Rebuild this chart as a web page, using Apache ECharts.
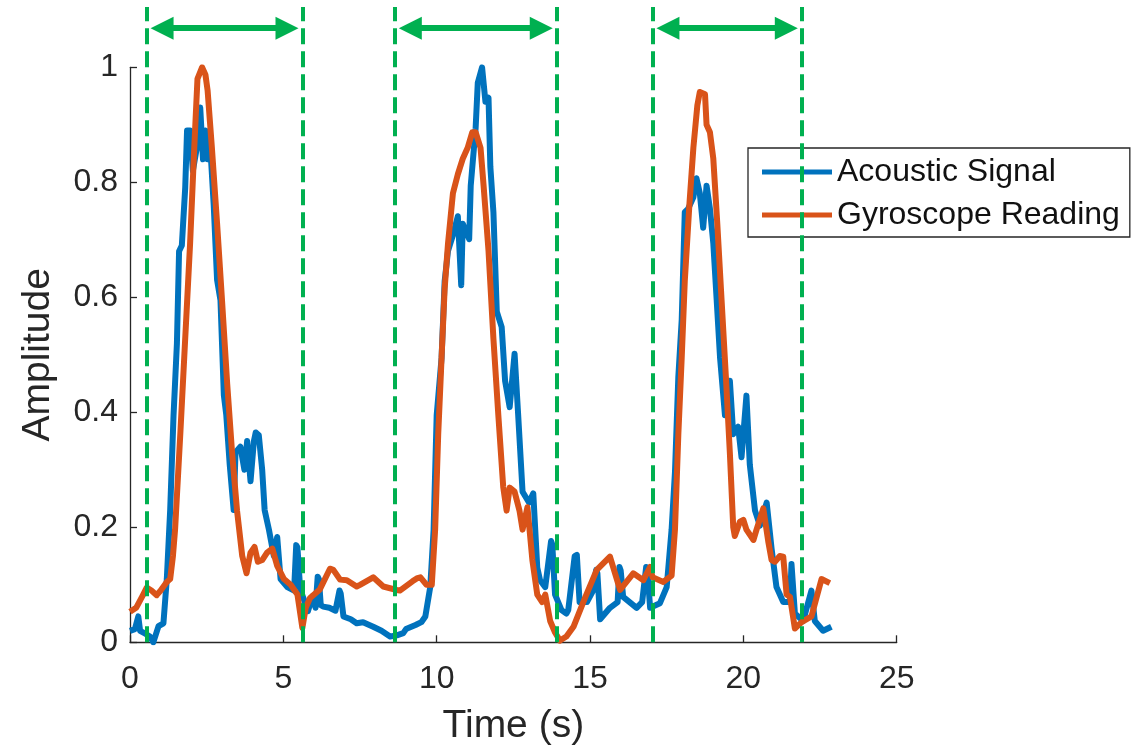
<!DOCTYPE html>
<html>
<head>
<meta charset="utf-8">
<script src="https://cdn.jsdelivr.net/npm/echarts@6/dist/echarts.min.js"></script>
<style>
html,body{margin:0;padding:0;background:#fff;}
#chart{width:1144px;height:754px;}
</style>
</head>
<body>
<div id="chart"></div>
<script>
// ---- data ----
const acousticTime = [0.00,0.16,0.27,0.33,0.50,0.65,0.76,0.93,1.09,1.20,1.31,1.42,1.53,1.60,1.69,1.80,1.86,1.96,2.05,2.18,2.29,2.38,2.46,2.53,2.62,2.73,2.84,2.95,3.06,3.14,3.25,3.38,3.44,3.60,3.73,3.82,3.93,4.04,4.10,4.20,4.31,4.39,4.53,4.69,4.80,4.91,5.13,5.35,5.42,5.46,5.55,5.70,5.80,5.95,6.05,6.12,6.16,6.22,6.30,6.50,6.70,6.83,6.87,6.96,7.20,7.39,7.60,7.93,8.20,8.48,8.70,8.91,9.00,9.31,9.50,9.63,9.79,9.90,10.00,10.16,10.26,10.37,10.53,10.69,10.80,10.85,11.06,11.11,11.27,11.34,11.48,11.59,11.69,11.75,11.85,11.96,12.12,12.23,12.38,12.54,12.65,12.80,13.01,13.15,13.28,13.37,13.54,13.73,13.77,13.86,14.07,14.23,14.29,14.50,14.57,14.66,14.90,15.10,15.20,15.24,15.33,15.65,15.90,15.96,16.00,16.08,16.52,16.70,16.83,16.87,16.96,17.28,17.50,17.66,17.77,17.88,17.99,18.09,18.20,18.37,18.47,18.58,18.69,18.80,18.91,19.02,19.13,19.24,19.40,19.50,19.56,19.67,19.83,19.94,20.10,20.21,20.38,20.54,20.76,20.92,21.08,21.30,21.52,21.57,21.68,21.95,22.22,22.33,22.60,22.87];
const acousticValue = [0.020,0.023,0.045,0.020,0.015,0.010,0.000,0.028,0.033,0.110,0.230,0.395,0.520,0.680,0.690,0.790,0.890,0.890,0.820,0.860,0.930,0.840,0.890,0.840,0.860,0.760,0.630,0.595,0.430,0.395,0.310,0.230,0.330,0.340,0.300,0.350,0.280,0.350,0.365,0.360,0.300,0.230,0.196,0.150,0.183,0.110,0.096,0.090,0.169,0.165,0.092,0.070,0.054,0.080,0.060,0.114,0.110,0.065,0.062,0.060,0.055,0.090,0.085,0.045,0.040,0.033,0.035,0.027,0.020,0.010,0.012,0.016,0.023,0.030,0.035,0.045,0.096,0.196,0.395,0.495,0.628,0.681,0.708,0.741,0.621,0.728,0.701,0.794,0.894,0.973,1.000,0.940,0.947,0.827,0.748,0.575,0.548,0.455,0.409,0.502,0.402,0.262,0.243,0.259,0.130,0.108,0.096,0.176,0.170,0.083,0.056,0.050,0.056,0.150,0.152,0.070,0.070,0.090,0.126,0.120,0.040,0.060,0.070,0.131,0.125,0.079,0.060,0.070,0.131,0.125,0.060,0.068,0.096,0.196,0.296,0.462,0.561,0.748,0.754,0.774,0.807,0.781,0.721,0.794,0.754,0.694,0.595,0.495,0.395,0.420,0.455,0.362,0.375,0.322,0.429,0.309,0.229,0.203,0.243,0.163,0.096,0.070,0.070,0.136,0.050,0.037,0.090,0.037,0.020,0.027];

const gyroTime = [0.00,0.20,0.40,0.545,0.70,0.87,1.00,1.20,1.31,1.40,1.47,1.64,1.80,1.96,2.09,2.20,2.35,2.46,2.53,2.67,2.84,3.00,3.17,3.33,3.49,3.66,3.80,3.93,4.06,4.17,4.31,4.47,4.64,4.80,5.02,5.24,5.46,5.62,5.73,5.87,6.19,6.52,6.63,6.85,7.07,7.39,7.50,7.93,8.26,8.70,8.80,9.21,9.35,9.47,9.67,9.84,9.95,10.05,10.16,10.26,10.37,10.53,10.69,10.85,11.01,11.16,11.27,11.43,11.53,11.69,11.85,12.01,12.17,12.28,12.38,12.54,12.70,12.80,12.96,13.12,13.28,13.44,13.54,13.70,13.86,14.02,14.23,14.46,14.82,15.22,15.65,15.98,16.41,16.74,16.96,17.04,17.39,17.66,17.77,17.88,17.99,18.09,18.24,18.37,18.50,18.58,18.75,18.80,18.91,19.02,19.15,19.29,19.43,19.56,19.67,19.72,19.89,20.00,20.10,20.33,20.43,20.65,20.81,20.92,21.03,21.19,21.30,21.41,21.52,21.68,21.90,22.22,22.55,22.60,22.82];
const gyroValue = [0.053,0.060,0.080,0.095,0.090,0.082,0.090,0.105,0.110,0.150,0.196,0.362,0.528,0.694,0.854,0.980,1.000,0.987,0.960,0.860,0.728,0.595,0.449,0.329,0.229,0.150,0.120,0.156,0.166,0.140,0.143,0.156,0.163,0.133,0.110,0.100,0.083,0.025,0.060,0.077,0.092,0.128,0.126,0.109,0.108,0.097,0.100,0.113,0.097,0.091,0.090,0.106,0.111,0.113,0.100,0.100,0.196,0.362,0.495,0.615,0.694,0.781,0.814,0.841,0.860,0.887,0.887,0.860,0.794,0.681,0.528,0.395,0.270,0.229,0.269,0.262,0.229,0.196,0.235,0.143,0.083,0.070,0.083,0.037,0.017,0.003,0.010,0.027,0.075,0.126,0.149,0.091,0.120,0.108,0.131,0.113,0.105,0.116,0.196,0.362,0.495,0.628,0.761,0.860,0.934,0.957,0.953,0.900,0.887,0.841,0.728,0.595,0.462,0.329,0.200,0.185,0.210,0.213,0.196,0.178,0.196,0.233,0.176,0.143,0.140,0.150,0.149,0.083,0.079,0.024,0.035,0.045,0.110,0.111,0.103];

// segment boundaries (s) marked by green dashed lines
const segmentBounds = [[0.545, 5.62], [8.64, 13.91], [17.04, 21.90]];

const xTicks = [0, 5, 10, 15, 20, 25];
const yTicks = [0, 0.2, 0.4, 0.6, 0.8, 1];

// ---- build ----
const zip = (a, b) => a.map((t, i) => [t, b[i]]);
const FONT = 'Liberation Sans, Arial, Helvetica, sans-serif';
const AX = '#262626';
const GREEN = '#00B050';
const TOP_V = 1.105;
const ARROW_V = 1.068;

const dashedData = [];
const arrowData = [];
segmentBounds.forEach(([a, b]) => {
  dashedData.push({coords: [[a, 0], [a, TOP_V]]});
  dashedData.push({coords: [[b, 0], [b, TOP_V]]});
  arrowData.push({coords: [[a + 0.5, ARROW_V], [b - 0.5, ARROW_V]]});
});

const chart = echarts.init(document.getElementById('chart'), null, {renderer: 'canvas'});
chart.setOption({
  animation: false,
  backgroundColor: '#ffffff',
  grid: [
    {left: 130, right: 247.3, top: 67.3, bottom: 111.7},
    {left: 130, right: 247.3, top: 6.9, bottom: 111.7}
  ],
  xAxis: [
    {
      type: 'value', gridIndex: 0, min: xTicks[0], max: xTicks[xTicks.length - 1], interval: 5,
      axisLine: {lineStyle: {color: AX, width: 1.3}},
      axisTick: {inside: true, length: 7, lineStyle: {color: AX, width: 1.3}},
      axisLabel: {fontSize: 32, color: AX, fontFamily: FONT, margin: 21},
      splitLine: {show: false},
      name: 'Time (s)', nameLocation: 'middle', nameGap: 64,
      nameTextStyle: {fontSize: 39, color: AX, fontFamily: FONT}
    },
    {type: 'value', gridIndex: 1, min: 0, max: 25, show: false}
  ],
  yAxis: [
    {
      type: 'value', gridIndex: 0, min: yTicks[0], max: yTicks[yTicks.length - 1], interval: 0.2,
      axisLine: {show: true, lineStyle: {color: AX, width: 1.3}},
      axisTick: {show: true, inside: true, length: 7, lineStyle: {color: AX, width: 1.3}},
      axisLabel: {fontSize: 32, color: AX, fontFamily: FONT, margin: 12},
      splitLine: {show: false},
      name: 'Amplitude', nameLocation: 'middle', nameGap: 72, nameRotate: 90,
      nameTextStyle: {fontSize: 39, color: AX, fontFamily: FONT}
    },
    {type: 'value', gridIndex: 1, min: 0, max: TOP_V, show: false}
  ],
  legend: {
    left: 748, top: 148, orient: 'vertical',
    icon: 'rect', itemWidth: 70, itemHeight: 5, itemGap: 11,
    padding: [8, 10, 6, 14],
    borderColor: AX, borderWidth: 1.3, backgroundColor: '#ffffff',
    textStyle: {fontSize: 32, color: '#111', fontFamily: FONT},
    data: ['Acoustic Signal', 'Gyroscope Reading']
  },
  series: [
    {
      name: 'Acoustic Signal', type: 'line', xAxisIndex: 0, yAxisIndex: 0,
      data: zip(acousticTime, acousticValue), showSymbol: false, symbol: 'none',
      lineStyle: {color: '#0072BD', width: 6, join: 'round'}, itemStyle: {color: '#0072BD'}, z: 2
    },
    {
      name: 'Gyroscope Reading', type: 'line', xAxisIndex: 0, yAxisIndex: 0,
      data: zip(gyroTime, gyroValue), showSymbol: false, symbol: 'none',
      lineStyle: {color: '#D95319', width: 6, join: 'round'}, itemStyle: {color: '#D95319'}, z: 3
    },
    {
      type: 'lines', coordinateSystem: 'cartesian2d', xAxisIndex: 1, yAxisIndex: 1,
      data: dashedData, z: 10, silent: true,
      lineStyle: {color: GREEN, width: 4, type: [16, 7], opacity: 1}
    },
    {
      type: 'lines', coordinateSystem: 'cartesian2d', xAxisIndex: 1, yAxisIndex: 1,
      data: arrowData, z: 10, silent: true,
      symbol: ['triangle', 'triangle'], symbolSize: [23, 23],
      lineStyle: {color: GREEN, width: 6, opacity: 1}, itemStyle: {color: GREEN}
    }
  ]
});
</script>
</body>
</html>
